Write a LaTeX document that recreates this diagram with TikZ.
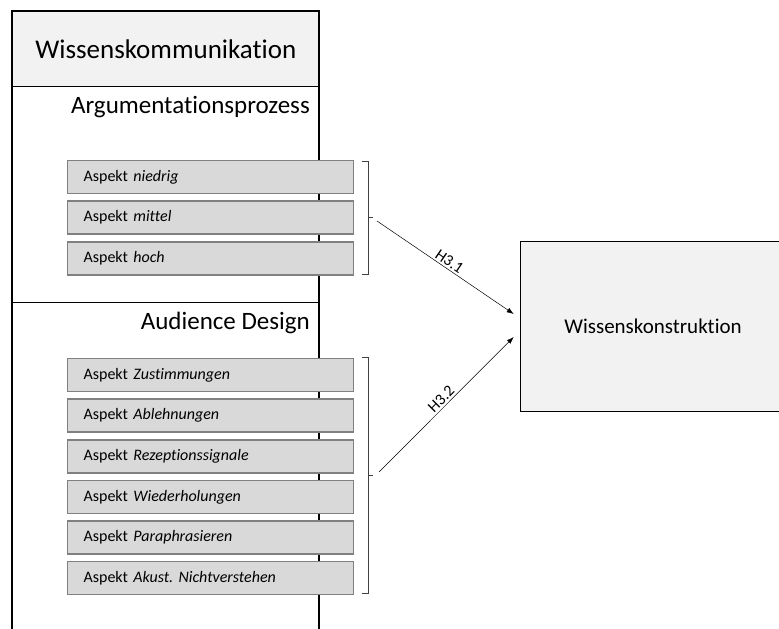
\documentclass[tikz,border=0pt]{standalone}
\usepackage{fontspec}
\setmainfont{Carlito}[Ligatures=NoCommon]
\usepackage{tikz}
\usetikzlibrary{arrows.meta,calc,positioning}
\definecolor{pale}{HTML}{F2F2F2}
\definecolor{aspectfill}{HTML}{D9D9D9}
\definecolor{aspectline}{HTML}{808080}
\tikzset{aspect/.style={draw=aspectline,line width=1.6pt,fill=aspectfill,text width=254pt,inner xsep=16pt,inner ysep=0pt,minimum height=33pt,align=left,font=\fontsize{16}{18}\selectfont},hyp/.style={-{Latex[length=7pt,width=5pt]},draw=black,line width=.5pt},brack/.style={draw=black!75,line width=.6pt},heading/.style={anchor=east,inner sep=0pt,font=\fontsize{25}{28}\selectfont},hlabel/.style={sloped,above,inner sep=2pt,font=\fontsize{16}{18}\selectfont}}
\begin{document}
\begin{tikzpicture}[x=1pt,y=-1pt,node distance=6pt]
\useasboundingbox (0,0) rectangle (779,629);
\node[draw,line width=.6pt,fill=pale,minimum width=307pt,minimum height=75pt,anchor=north west,font=\fontsize{27}{30}\selectfont] (komm) at (12,11) {Wissenskommunikation};
\node[heading] (argu) at (310,107) {Argumentationsprozess};
\node[heading] (aud) at (310,323) {Audience Design};
\draw[line width=.6pt] (12,302) -- (319,302);
\draw[line width=2pt] (12,629) |- (319,11) -- (319,629);
% Argumentationsprozess
\node[aspect,anchor=north west] (a1) at (66.8,159.8) {Aspekt \textit{niedrig}};
\node[aspect,below=of a1] (a2) {Aspekt \textit{mittel}};
\node[aspect,below=of a2] (a3) {Aspekt \textit{hoch}};
% Audience Design
\node[aspect,anchor=north west] (d1) at (66.8,357.8) {Aspekt \textit{Zustimmungen}};
\node[aspect,below=of d1] (d2) {Aspekt \textit{Ablehnungen}};
\node[aspect,below=of d2] (d3) {Aspekt \textit{Rezeptionssignale}};
\node[aspect,below=of d3] (d4) {Aspekt \textit{Wiederholungen}};
\node[aspect,below=of d4] (d5) {Aspekt \textit{Paraphrasieren}};
\node[aspect,below=of d5] (d6) {Aspekt \textit{Akust.\ Nichtverstehen}};
\node[draw,line width=.6pt,fill=pale,minimum width=266pt,minimum height=170pt,font=\fontsize{21}{24}\selectfont] (konstr) at (653,326) {Wissenskonstruktion};
% Klammern
\draw[brack] (362,161) -- (368,161) -- (368,274) -- (362,274);
\draw[brack] (368,217) -- (373,217);
\draw[brack] (362,357) -- (368,357) -- (368,593) -- (362,593);
\draw[brack] (368,475) -- (373,475);
\coordinate (h1) at (377,221);
\coordinate (h2) at (379,472);
\draw[hyp] (h1) -- node[hlabel] {H3.1} ($(konstr.west)+(-6,-12)$);
\draw[hyp] (h2) -- node[hlabel] {H3.2} ($(konstr.west)+(-6,11)$);
\end{tikzpicture}
\end{document}
